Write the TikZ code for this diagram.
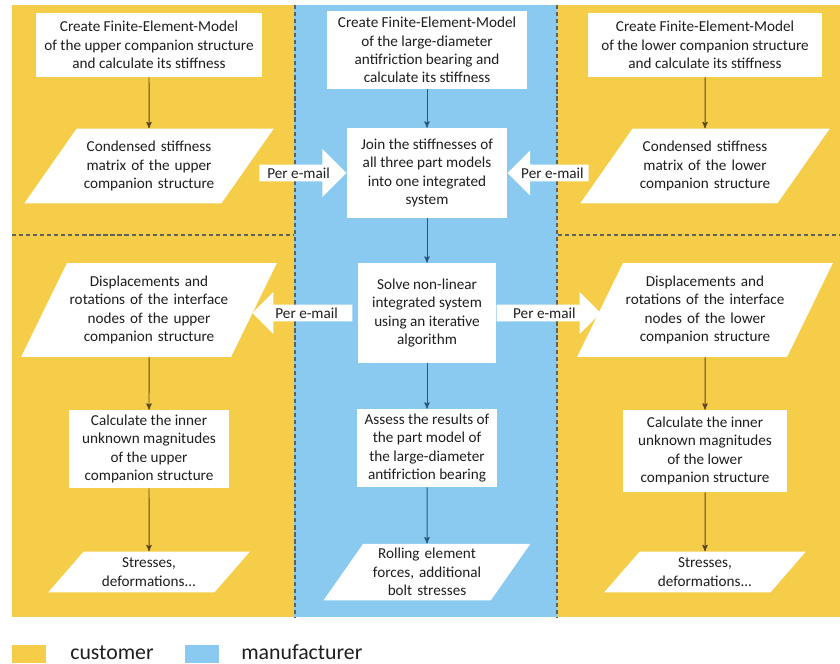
\documentclass[tikz,border=0pt]{standalone}
\usepackage{fontspec}
\setmainfont{Carlito}
\usetikzlibrary{arrows,shapes.geometric,shapes.arrows}

\definecolor{custyellow}{RGB}{246,205,72}
\definecolor{manublue}{RGB}{139,202,240}
\definecolor{linebrown}{RGB}{92,72,30}
\definecolor{lineblue}{RGB}{38,88,128}
\definecolor{dashgray}{RGB}{95,98,90}
\definecolor{textdark}{RGB}{30,30,30}

\begin{document}
\begin{tikzpicture}[x=0.025cm,y=-0.025cm,>=stealth',
                    font=\fontsize{10.8}{13}\selectfont,text=textdark,
                    task/.style={rectangle,fill=white,align=center,inner sep=2pt},
                    data/.style={trapezium,fill=white,align=center,inner xsep=2pt},
                    mail/.style={single arrow,fill=white,single arrow head extend=9pt,
                                 inner ysep=2pt,inner xsep=3pt},
                    flow/.style={->,line width=0.7pt},
                    divider/.style={dashgray,line width=0.8pt,dash pattern=on 3pt off 2pt}]
  \useasboundingbox (0,0) rectangle (840,663);
  % swim lanes
  \fill[custyellow] (12,5) rectangle (840,617);
  \fill[manublue] (294,5) rectangle (557,617);
  \draw[divider] (295,5) -- (295,617);
  \draw[divider] (557,5) -- (557,617);
  \draw[divider] (12,235) -- (294,235);
  \draw[divider] (558,235) -- (840,235);

  % customer, upper structure
  \node[task,minimum width=5.625cm,minimum height=1.6cm] (l1) at (149,45)
    {Create Finite-Element-Model\\of the upper companion structure\\and calculate its stiffness};
  \node[data,text width=3.475cm,inner ysep=9pt,
        trapezium left angle=55,trapezium right angle=125] (l2) at (149,166)
    {Condensed stiffness\\matrix of the upper\\companion structure};
  \node[data,text width=4.1cm,inner xsep=0pt,inner ysep=9.3pt,
        trapezium left angle=64,trapezium right angle=116] (l3) at (149,310)
    {Displacements and\\rotations of the interface\\nodes of the upper\\companion structure};
  \node[task,minimum width=4cm,minimum height=1.95cm] (l4) at (149,449)
    {Calculate the inner\\unknown magnitudes\\of the upper\\companion structure};
  \node[data,text width=3.125cm,inner ysep=4.5pt,
        trapezium left angle=49,trapezium right angle=131] (l5) at (149,572)
    {Stresses,\\deformations...};

  % manufacturer
  \node[task,minimum width=5cm,minimum height=1.95cm] (c1) at (427,50)
    {Create Finite-Element-Model\\of the large-diameter\\antifriction bearing and\\calculate its stiffness};
  \node[task,minimum width=4cm,minimum height=2.25cm] (c2) at (427,173)
    {Join the stiffnesses of\\all three part models\\into one integrated\\system};
  \node[task,minimum width=3.45cm,minimum height=2.5cm] (c3) at (427,313)
    {Solve non-linear\\integrated system\\using an iterative\\algorithm};
  \node[task,minimum width=3.5cm,minimum height=1.95cm] (c4) at (427,448)
    {Assess the results of\\the part model of\\the large-diameter\\antifriction bearing};
  \node[data,text width=3.05cm,inner ysep=3.3pt,
        trapezium left angle=55,trapezium right angle=125] (c5) at (427,572)
    {Rolling element\\forces, additional\\bolt stresses};

  % customer, lower structure
  \node[task,minimum width=5.85cm,minimum height=1.6cm] (r1) at (705,45)
    {Create Finite-Element-Model\\of the lower companion structure\\and calculate its stiffness};
  \node[data,text width=3.475cm,inner ysep=9pt,
        trapezium left angle=55,trapezium right angle=125] (r2) at (705,166)
    {Condensed stiffness\\matrix of the lower\\companion structure};
  \node[data,text width=4.1cm,inner xsep=0pt,inner ysep=9.3pt,
        trapezium left angle=64,trapezium right angle=116] (r3) at (705,310)
    {Displacements and\\rotations of the interface\\nodes of the lower\\companion structure};
  \node[task,minimum width=4.075cm,minimum height=2.05cm] (r4) at (705,451)
    {Calculate the inner\\unknown magnitudes\\of the lower\\companion structure};
  \node[data,text width=3.125cm,inner ysep=4.5pt,
        trapezium left angle=49,trapezium right angle=131] (r5) at (705,572)
    {Stresses,\\deformations...};

  % exchange by e-mail
  \node[mail,single arrow head extend=11pt,minimum height=2.175cm,anchor=tip] (m1) at (c2.west) {Per e-mail};
  \node[mail,single arrow head extend=10pt,shape border rotate=180,minimum height=2.025cm,anchor=tip] (m2) at (c2.east) {Per e-mail};
  \node[mail,shape border rotate=180,minimum height=2.5cm,anchor=tail] (m3) at ([xshift=-0.125cm]c3.west) {Per e-mail};
  \node[mail,minimum height=2.6cm,anchor=tail] (m4) at (c3.east) {Per e-mail};

  \path[flow]
    (l1) edge [draw=linebrown] (l2)
    (l3) edge [draw=linebrown] (l4)
    (l4) edge [draw=linebrown] (l5)
    (c1) edge [draw=lineblue] (c2)
    (c2) edge [draw=lineblue] (c3)
    (c3) edge [draw=lineblue] (c4)
    (c4) edge [draw=lineblue] (c5)
    (r1) edge [draw=linebrown] (r2)
    (r3) edge [draw=linebrown] (r4)
    (r4) edge [draw=linebrown] (r5);

  % legend
  \fill[custyellow] (12,645) rectangle (46,663);
  \fill[manublue] (185,645) rectangle (219,663);
  \node[anchor=base west,inner sep=0pt,font=\fontsize{15.5}{17}\selectfont] (cust) at (70,659) {customer};
  \node[anchor=base west,inner sep=0pt,font=\fontsize{15.5}{17}\selectfont] (manu) at (241,659) {manufacturer};
\end{tikzpicture}
\end{document}
